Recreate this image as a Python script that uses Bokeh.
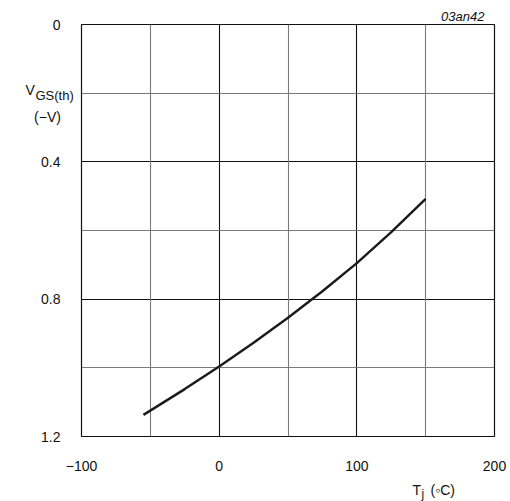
from bokeh.plotting import figure
from bokeh.models import Range1d, FixedTicker, Grid
from bokeh.core.properties import value
from bokeh.embed import file_html
from bokeh.resources import INLINE

# Data
temp_c = [-55, -25, 0, 25, 50, 75, 100, 125, 150]
vgs_th = [1.137, 1.062, 0.996, 0.927, 0.854, 0.777, 0.695, 0.605, 0.508]

x_ticks = [-100, 0, 100, 200]
x_tick_labels = ["\u2212100", "0", "100", "200"]
x_minor = [-50, 50, 150]
y_ticks = [0, 0.4, 0.8, 1.2]
y_tick_labels = ["0", "0.4", "0.8", "1.2"]
y_minor = [0.2, 0.6, 1.0]

FONT = "Liberation Sans"

p = figure(width=510, height=501, output_backend="svg", toolbar_location=None,
           x_range=Range1d(-100, 200), y_range=Range1d(1.2, 0),
           min_border_left=81, min_border_right=16, min_border_top=24,
           min_border_bottom=65)

p.outline_line_color = "#111111"
p.outline_line_width = 1.2

for ax, ticks, labels in ((p.xaxis, x_ticks, x_tick_labels), (p.yaxis, y_ticks, y_tick_labels)):
    ax.ticker = FixedTicker(ticks=ticks)
    ax.major_label_overrides = {t: l for t, l in zip(ticks, labels)}
    ax.major_tick_line_color = None
    ax.minor_tick_line_color = None
    ax.axis_line_color = None
    ax.major_label_text_font = FONT
    ax.major_label_text_font_size = "14px"
    ax.major_label_text_color = "#111111"

p.xaxis.major_label_standoff = 18
p.yaxis.major_label_standoff = 15

p.xgrid.ticker = FixedTicker(ticks=x_ticks)
p.ygrid.ticker = FixedTicker(ticks=y_ticks)
for g in (p.xgrid, p.ygrid):
    g.grid_line_color = "#111111"
    g.grid_line_width = 1.1

p.add_layout(Grid(dimension=0, ticker=FixedTicker(ticks=x_minor),
                  grid_line_color="#7a7a7a", grid_line_width=1.1))
p.add_layout(Grid(dimension=1, ticker=FixedTicker(ticks=y_minor),
                  grid_line_color="#7a7a7a", grid_line_width=1.1))

p.line(temp_c, vgs_th, line_color="#1a1a1a", line_width=2.4)

# picture pixel -> data (frame: x 81..494, y 24..436)
def px_to_x(px):
    return (px - 81) / (413 / 300) - 100

def py_to_y(py):
    return (py - 24) / (412 / 1.2)

def lab(text, px, py, size, style="normal", align="left"):
    p.text(x=[px_to_x(px)], y=[py_to_y(py)], text=[text],
           text_font=value(FONT), text_font_size=size,
           text_font_style=style, text_align=align,
           text_baseline="alphabetic", text_color="#111111",
           level="overlay")

# y-axis title
lab("V", 25, 89, "14px")
lab("GS(th)", 35, 95, "13px")
lab("(\u2212V)", 47, 116, "14px", align="center")

# x-axis title
lab("T", 412, 489, "14px")
lab("j", 421, 493, "12px")
lab("(\u25e6C)", 430, 489, "14px")

# figure code
lab("03an42", 484, 16, "13px", style="italic", align="right")

open("out.html", "w").write(file_html(p, INLINE))
